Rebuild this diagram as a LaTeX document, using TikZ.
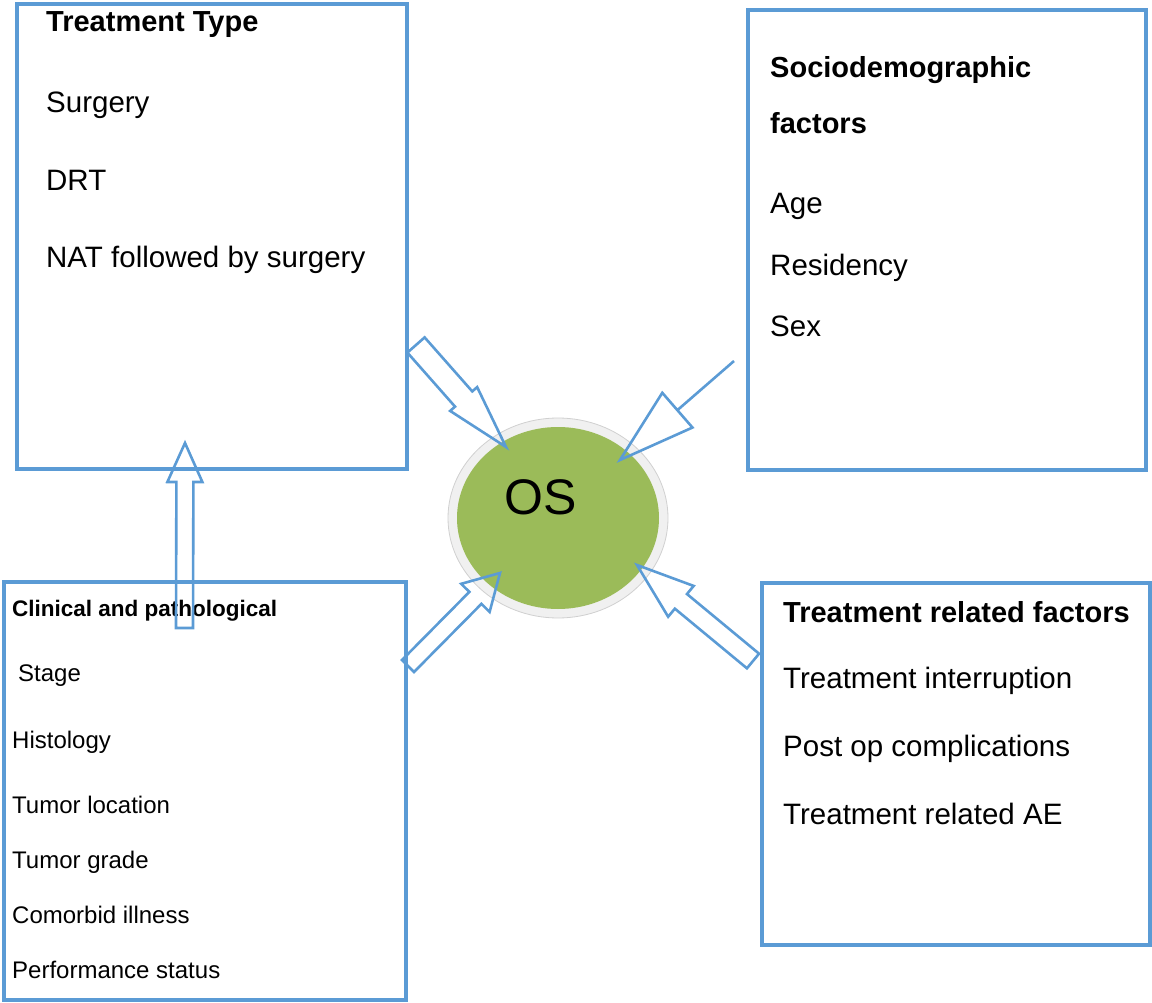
\documentclass[tikz,border=0pt]{standalone}
\usepackage{fontspec}
\setmainfont{Liberation Sans}
\usetikzlibrary{calc}
\definecolor{boxblue}{HTML}{5B9BD5}
\definecolor{osgreen}{HTML}{9BBB59}
\definecolor{ringgray}{HTML}{F0F0F0}
\definecolor{ringedge}{HTML}{D0D0D0}
\newcommand\bigtxt{\fontsize{29.5}{34}\selectfont}
\newcommand\bigbold{\fontsize{29}{34}\selectfont\bfseries}
\newcommand\smtxt{\fontsize{24}{28}\selectfont}
\newcommand\smbold{\fontsize{22.5}{27}\selectfont\bfseries}
% #1 name, #2 tail, #3 tip, #4 half shaft, #5 half head, #6 head length
\newcommand\blockarr[6]{%
  \coordinate (#1B) at ($(#3)!#6!(#2)$);
  \draw[arrline] ($(#2)!#4!90:(#3)$) -- ($(#1B)!#4!90:(#3)$) -- ($(#1B)!#5!90:(#3)$)
    -- (#3) -- ($(#1B)!#5!-90:(#3)$) -- ($(#1B)!#4!-90:(#3)$) -- ($(#2)!#4!-90:(#3)$) -- cycle;
}
\begin{document}
\begin{tikzpicture}[x=1pt,y=-1pt,
  box/.style={draw=boxblue, line width=3.5pt, fill=none},
  arrline/.style={draw=boxblue, line width=2.6pt, line join=miter},
  txt/.style={anchor=base west, inner sep=0pt, text=black}]
\useasboundingbox (0,0) rectangle (1152,1003);

% boxes
\draw[box] (17,4) rectangle (407,469);
\draw[box] (748,10) rectangle (1146,470);
\draw[box] (4,582) rectangle (406,1000);
\draw[box] (762,583) rectangle (1150,945);

% Treatment type
\node[txt] (tt) at (46,32) {\bigbold Treatment Type};
\node[txt] (tt1) at (46,113) {\bigtxt Surgery};
\node[txt] (tt2) at (46,191) {\bigtxt DRT};
\node[txt] (tt3) at (46,268) {\bigtxt NAT followed by surgery};

% Sociodemographic
\node[txt] (sd) at (770,78) {\bigbold Sociodemographic};
\node[txt] (sd0) at (770,134) {\bigbold factors};
\node[txt] (sd1) at (770,214) {\bigtxt Age};
\node[txt] (sd2) at (770,276) {\bigtxt Residency};
\node[txt] (sd3) at (770,337) {\bigtxt Sex};

% Treatment related
\node[txt] (tr) at (783,622) {\bigbold Treatment related factors};
\node[txt] (tr1) at (783,688) {\bigtxt Treatment interruption};
\node[txt] (tr2) at (783,756) {\bigtxt Post op complications};
\node[txt] (tr3) at (783,824) {\bigtxt Treatment related AE};

% Clinical
\node[txt] (cp) at (12,616) {\smbold Clinical and pathological};
\node[txt] (cp1) at (18,681) {\smtxt Stage};
\node[txt] (cp2) at (12,748) {\smtxt Histology};
\node[txt] (cp3) at (12,813) {\smtxt Tumor location};
\node[txt] (cp4) at (12,868) {\smtxt Tumor grade};
\node[txt] (cp5) at (12,923) {\smtxt Comorbid illness};
\node[txt] (cp6) at (12,978) {\smtxt Performance status};

% OS circle
\draw[fill=ringgray, draw=ringedge, line width=0.8pt] (558,518) ellipse [x radius=110, y radius=100];
\fill[osgreen] (558,518) ellipse [x radius=101, y radius=91];
\node[inner sep=0pt, text=black] (os) at (541,497) {\fontsize{50}{56}\selectfont OS};

% arrow coordinates
\coordinate (a1t) at (416,345); \coordinate (a1h) at (506,447);
\coordinate (a2t) at (734,361); \coordinate (a2h) at (620,460);
\coordinate (a3t) at (408,666); \coordinate (a3h) at (500,573);
\coordinate (a4t) at (753,661); \coordinate (a4h) at (637,565);
\coordinate (a5t) at (184.5,628); \coordinate (a5h) at (185,443);

\blockarr{a1}{a1t}{a1h}{11.5pt}{18pt}{64pt}
\blockarr{a2}{a2t}{a2h}{0pt}{23pt}{76pt}
\blockarr{a3}{a3t}{a3h}{8.5pt}{20pt}{35pt}
\blockarr{a4}{a4t}{a4h}{9.5pt}{20pt}{57pt}
\blockarr{a5}{a5t}{a5h}{8.5pt}{17.5pt}{39pt}
\end{tikzpicture}
\end{document}
